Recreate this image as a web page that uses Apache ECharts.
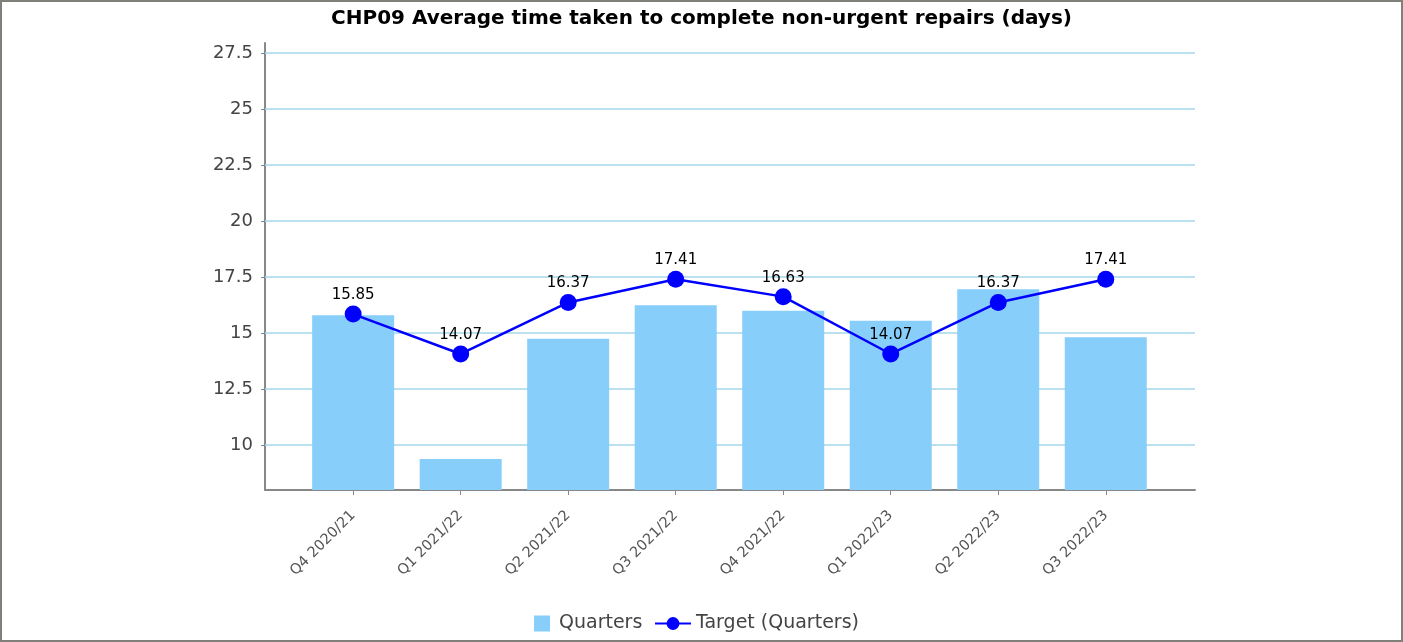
<!DOCTYPE html>
<html>
<head>
<meta charset="utf-8">
<script src="https://cdn.jsdelivr.net/npm/echarts@6/dist/echarts.min.js"></script>
<style>
  html, body { margin: 0; padding: 0; background: #fff; }
  #chart { width: 1399px; height: 638px; border: 2px solid #80807a; }
</style>
</head>
<body>
<div id="chart"></div>
<script>
const categories = ["Q4 2020/21", "Q1 2021/22", "Q2 2021/22", "Q3 2021/22", "Q4 2021/22", "Q1 2022/23", "Q2 2022/23", "Q3 2022/23"];
const quarters = [15.8, 9.38, 14.75, 16.25, 16.0, 15.55, 16.96, 14.82];
const target = [15.85, 14.07, 16.37, 17.41, 16.63, 14.07, 16.37, 17.41];
const yTicks = [10, 12.5, 15, 17.5, 20, 22.5, 25, 27.5];

const idx = categories.map((c, i) => i);
const legendText = { fontFamily: "DejaVu Sans", fontSize: 19, color: "#444" };
const chart = echarts.init(document.getElementById("chart"));
chart.setOption({
  animation: false,
  title: {
    text: "CHP09 Average time taken to complete non-urgent repairs (days)",
    left: "center",
    top: 2,
    textStyle: { fontFamily: "DejaVu Sans", fontSize: 20, fontWeight: "bold", color: "#000" }
  },
  legend: [
    {
      left: 527,
      bottom: 2,
      itemWidth: 16,
      itemHeight: 16,
      textStyle: Object.assign({ padding: [0, 0, 0, 4] }, legendText),
      data: [{ name: "Quarters", icon: "rect" }]
    },
    {
      left: 647,
      bottom: 2,
      itemWidth: 36,
      itemHeight: 16,
      textStyle: legendText,
      data: [{ name: "Target (Quarters)" }]
    }
  ],
  grid: { left: 263, right: 206, top: 41, bottom: 150 },
  xAxis: {
    type: "value",
    min: -0.82,
    max: 7.83,
    axisLine: { show: true, onZero: false, lineStyle: { color: "#888", width: 2 } },
    axisTick: { show: true, customValues: idx, length: 5, lineStyle: { color: "#888" } },
    splitLine: { show: false },
    axisLabel: {
      customValues: idx,
      rotate: 45,
      fontFamily: "DejaVu Sans",
      fontSize: 14.5,
      color: "#555",
      margin: 23,
      formatter: v => categories[v]
    }
  },
  yAxis: {
    type: "value",
    min: 8,
    max: 27.95,
    axisLine: { show: true, onZero: false, lineStyle: { color: "#888", width: 2 } },
    axisTick: { show: true, customValues: yTicks, length: 4, lineStyle: { color: "#888" } },
    axisLabel: {
      customValues: yTicks,
      fontFamily: "DejaVu Sans",
      fontSize: 18,
      color: "#444",
      margin: 12
    },
    splitLine: { show: false }
  },
  series: [
    {
      name: "Quarters",
      type: "bar",
      barWidth: 82,
      z: 2,
      itemStyle: { color: "#87cefa" },
      data: quarters.map((v, i) => [i, v]),
      // grid lines drawn as mark lines so they keep the light blue colour
      markLine: {
        silent: true,
        symbol: "none",
        z: 1,
        label: { show: false },
        lineStyle: { color: "#a4d6ea", width: 1.5, type: "solid" },
        data: yTicks.map(v => ({ yAxis: v }))
      }
    },
    {
      name: "Target (Quarters)",
      type: "line",
      z: 3,
      symbol: "circle",
      symbolSize: 17,
      itemStyle: { color: "#0000ff" },
      lineStyle: { color: "#0000ff", width: 2.5 },
      label: {
        show: true,
        position: "top",
        distance: 3,
        fontFamily: "DejaVu Sans",
        fontSize: 15,
        color: "#000",
        formatter: p => p.value[1].toFixed(2)
      },
      data: target.map((v, i) => [i, v])
    }
  ]
});
</script>
</body>
</html>
